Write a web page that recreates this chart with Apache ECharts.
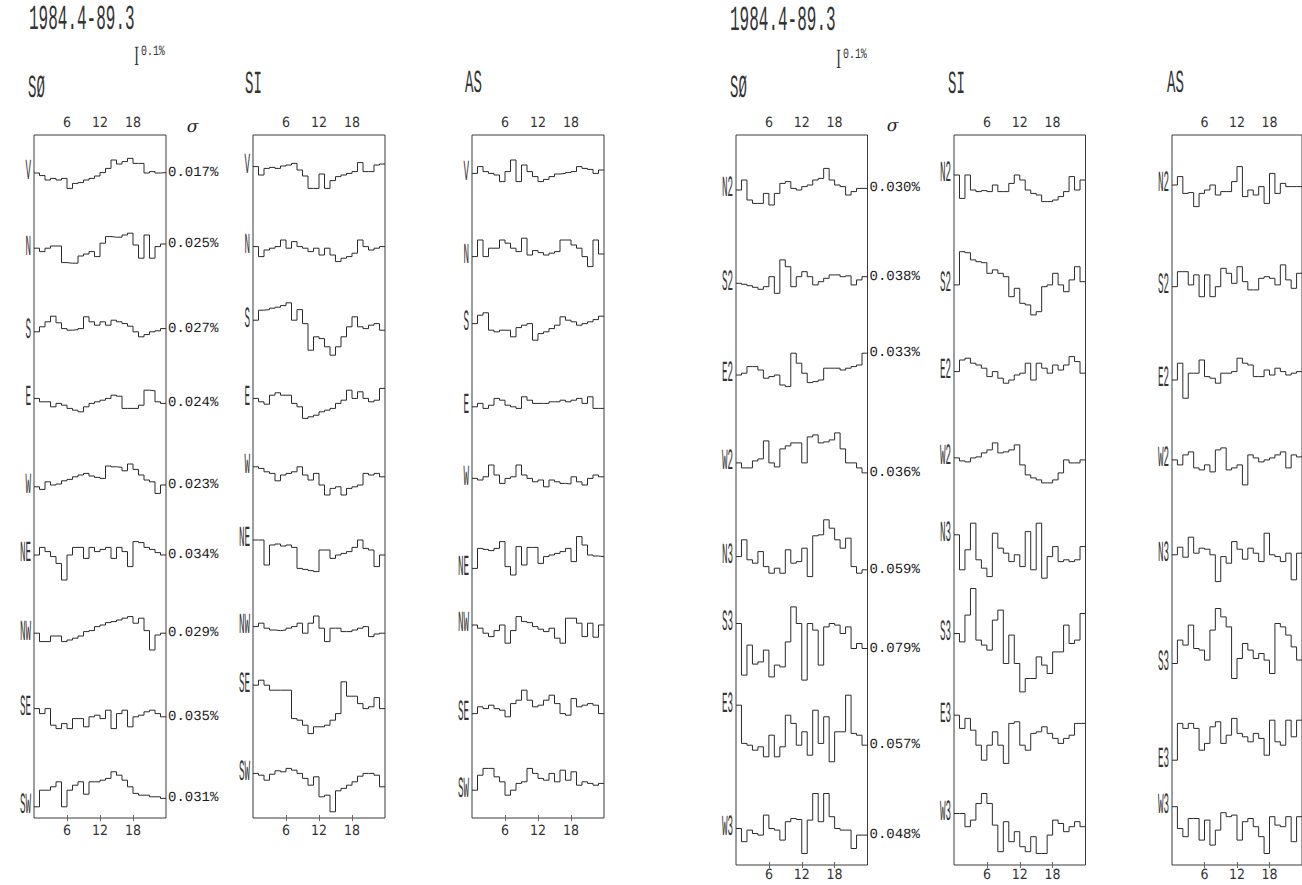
<!DOCTYPE html>
<html><head><meta charset="utf-8">
<script src="https://cdn.jsdelivr.net/npm/echarts@6/dist/echarts.min.js"></script>
<style>html,body{margin:0;padding:0;background:#fff}#c{width:1302px;height:885px}#c svg text{text-rendering:geometricPrecision}</style>
</head><body><div id="c"></div>
<script>
// ---------------- data ----------------
const hourTicks = [6, 12, 18];
const periodLabel = '1984.4-89.3';
const scaleLabel = '0.1%';
const stations = ['SØ', 'SI', 'AS'];

const leftRows = ['V','N','S','E','W','NE','NW','SE','SW'];
const leftSigma = ['0.017%','0.025%','0.027%','0.024%','0.023%','0.034%','0.029%','0.035%','0.031%'];
const rightRows = ['N2','S2','E2','W2','N3','S3','E3','W3'];
const rightSigma = ['0.030%','0.038%','0.033%','0.036%','0.059%','0.079%','0.057%','0.048%'];

// hourly deviations (units of 0.01 %), hours 0..23
const leftSO = [
 [0,-1.3,-3.5,-2.7,-3.5,-2.7,-7.7,-5.2,-4.8,-3.5,-2.7,-1.5,0.2,2.3,6.5,4.5,5.7,7.3,4.8,4.8,0,0.7,0,0.2],
 [1.2,-0.5,1.2,2.3,2.3,-6,-6.3,-6.3,-2.7,-1.7,-0.5,-3,3.7,7,6.7,6.7,7.8,8.7,2.8,-3.8,7.8,-3.8,2,3.3],
 [-1.8,0.7,3.2,6,2.7,-0.2,-1,-0.7,-0.2,5.7,3.2,1.5,3.2,1.5,4,3.2,2.3,1,-1.8,-4.3,-3.2,-1.8,-1.3,-0.2],
 [3.7,2,2,-0.5,1.2,0.3,-1.3,-2.2,-3,-0.5,1.2,2,2.8,3.7,5.3,4.8,-1.3,-1.3,-1.3,0.3,7.8,7.5,2,1.2],
 [-1.7,-3,0.8,-0.8,-0.3,1.3,2,3.3,4.2,5,3.7,3,2.5,8.7,8.3,8,6.3,9.7,7,4.2,1.7,0.8,-5,-0.8],
 [3,6.8,4.7,2.2,-1.2,-9.5,3,6.8,6.8,1.3,6.8,4.7,5.8,6.8,1.3,6.8,4.7,-2.8,9.7,9.2,6.8,5.8,4.2,3],
 [2.7,-1.5,-1.5,1.3,1.3,-1.5,-0.7,0.2,1.3,3.5,4,6,6.8,8,8.5,9.3,10.2,11,7.7,10.2,4,-5.7,1.8,2.7],
 [3.8,1.3,3.8,-4.5,-6.2,-3.7,-6.2,-1.2,-1.2,-5.3,-0.3,0.5,-1.2,3,-6.2,1.3,3,-5.3,-0.3,0.5,2.2,3,1.3,-0.3],
 [-6.5,1.8,1.8,3.5,6,-6.5,1.8,4.3,6,-0.2,6,6,6.8,7.7,11,9.3,6.8,3.5,0.2,-0.7,-0.7,-1.5,-1.5,-2.3]
];
const leftSI = [
 [3.2,-1,2.3,2.8,2.3,3.5,4,4.8,1.5,-1.5,-7.7,-7.7,-0.5,-7.7,-3.8,-1.8,-1,-0.2,0.7,5.2,0.7,0.7,4,4.5],
 [2,-3,0.3,1.2,2,5.3,1.2,4.5,2,1.2,-0.5,1.2,-2.2,1.2,-2.2,-5.5,-3.8,-3,-1.3,5.3,2,0.3,1.2,2],
 [4,9,9.3,10,10.5,11.3,12.7,4,9.3,2.3,-11,-4.3,-5.2,-9.3,-13.5,-9.3,-4.3,0.7,5.7,0.7,-0.2,1.5,2.3,-1],
 [3.7,2,0.8,5.3,6.5,5.3,5.3,1.2,-0.5,-6.3,-5.5,-4.7,-3,-2.2,-1.3,1.2,2.8,7.8,3.7,7,3.7,2,2.8,8.7],
 [8.3,7.5,5.8,5,1.3,4.2,5,5.8,8.3,4.2,1.7,5,-0.8,-5.8,-2.5,-1.7,-5.8,-2.5,-1.7,-0.8,5,4.2,5,3.3],
 [10.5,10.5,-2,8,8.5,7.5,8,6.8,-3.7,-4.2,-4.8,-5.3,5.5,5.5,1.3,3,3.8,4.7,6.8,10.5,6.3,5.5,-2.8,3],
 [6,7.7,5.2,4.3,4,4.3,5.2,6,7.7,2.7,7.7,11.3,5.2,-1.5,5.2,5.2,3.5,3.5,4.3,5.2,6,1,2.3,2.7],
 [15.5,18,15.5,13,13,13,13,-1.2,-2,-4.5,-8.7,-5.3,-5.3,-4.5,-2,1.3,17.2,10,10,6.3,3.8,4.7,9.3,3.8],
 [10.2,9.3,6.8,9.8,11.5,11,12.7,11.8,10.2,7.7,4.3,8.5,-1.5,-0.7,-9,1.5,2.7,4.3,6,8.8,10.2,10.2,9.3,3.5]
];
const leftAS = [
 [-0.2,3.2,0.7,-0.2,-1,-4.3,0.7,6.5,-4.3,4,0.7,-1.8,-4.3,-3.2,-1.8,-0.5,-0.2,0.2,0.7,3.2,2.3,1.8,-0.2,1.5],
 [-3,5.3,-3,1.2,1.2,5.3,3.7,1.2,-0.5,6.2,-2.2,0,-1,-2.2,-1.3,-0.5,5.3,5.3,2.8,1.2,-3,-8,5.3,-1.7],
 [2.3,6.5,7.7,-1,-1.8,-1,-1,-4.3,0.3,1.5,2.3,-6,-2.7,-1.8,-0.2,1.5,5.7,4,3.2,1.5,2.3,3.2,4.3,6],
 [-0.5,1.2,-1.3,0.3,3.7,2.8,0.3,-0.5,-1.3,4.5,2.8,1.2,1.2,1.2,2,2,2.8,2,2.8,3.7,1.2,4.5,-1.3,-1.3],
 [2.5,1.7,3.3,9.2,4.2,0,2.5,3.3,9.2,4.2,2.5,0.8,1.7,-1.7,1.7,0.8,0,-0.3,3.3,0.8,-0.8,2.5,4.2,3.3],
 [-3.7,6.3,5.8,5.2,6.3,9.7,-2.8,-7,7.2,-2,6.8,6.8,-1.2,2.2,3,3.8,4.7,6.3,-0.3,12.2,8,3,2.5,2.2],
 [6.8,5.2,2.7,1,4,6.8,-2.3,4,11,8.5,8,6,4.7,3.5,5.2,0.2,-2.3,10.2,10.2,7.7,1,7.7,0.7,6.8],
 [1.3,4.7,3.8,5.5,3.8,3,-0.3,6.3,8,13,8,4.7,5.5,8,10.5,6.3,1.3,0.5,8.8,4.7,5.5,6.3,5.5,1.3],
 [1.8,9.3,12.7,12.7,8.5,6,-0.7,1.8,5.2,6,12.7,10.2,7.7,6.8,10.2,6,11.8,6.8,11,4.3,6,5.2,4.3,5.2]
];
const rightSO = [
 [0,5,-5,-6.7,-6.7,-1.7,-7.5,-1.7,3.3,4.2,0.8,0,1.7,2.5,5,5.8,10.8,5,2.5,1.7,-2.5,-0.8,0.8,0.8],
 [-1.5,-2,-2.7,-3.5,-4.5,-3.2,1.8,-6.5,10.2,6.8,-3.2,1.8,4.3,1.8,-2.3,-0.7,1,2.7,2.7,1.8,2.2,-2.3,0.2,1.8],
 [-2.2,-1.3,2,2,0.3,-3.8,-3,-2.2,-7.2,-8,8.7,3.7,-1.3,-6,-5.5,-4.7,1.2,1.2,1.2,0.3,1.2,2,2.8,8.7],
 [-1,-3.5,-3.5,0,1,10,-1,-3,6,7.5,9,9,-1,12,13,9,9.5,10.5,14,6,-1,-1,-3.5,-6],
 [-2.7,5.7,-4.3,-6,-0.2,-7.7,-11,-8.5,-11,0.7,-6,-5.2,1.5,-12.7,7.7,8.2,15.7,11.5,5.7,1.5,6.5,-7.7,-11,-9.3],
 [9,-16.8,-1.8,-11.3,-10.2,-4.3,-17.7,-11.8,-12.7,-0.2,17.3,9,-19.3,9,5.7,-11.8,7.3,9,8.2,4,7.3,-3.5,-1,-3.5],
 [13.3,-5.8,-6.7,-9.2,-7.5,-12.5,-1.7,-12.5,-7.5,8.3,4.2,-6.7,0,-11.7,10.8,-5.8,7.5,-15,0,0,18.3,-0.8,-1.7,-6.7],
 [-3.2,-9.8,-4,-5.7,-6.5,3.5,-3.2,-4,-9,0.2,1.8,1.3,-15.7,1,14.3,0.2,14.3,2.7,-3.2,-4,-4,-13.2,-6.5,-6.5]
];
const rightSI = [
 [7.5,-4.2,7.5,0,-0.8,-0.3,-0.8,2.5,-0.8,-0.8,3.3,7.5,5,0,-1.7,-2.5,-5.8,-5.8,-5,-3.3,-0.8,6.7,0,5],
 [-2.3,14.3,13.8,10.2,9.3,8.8,3.5,5.2,3.5,1.8,-8.2,-4,-11.5,-12.3,-17.3,-15.7,-3.2,-2.3,3.5,-2.3,-5.7,0.2,6.8,-0.7],
 [-0.5,5.3,6.2,3.7,2.8,1.2,-3,-0.5,-3.8,-6.3,-4.7,-2.2,-1.3,3.7,-4.7,3.7,1.2,-1.3,2.8,0.3,2.8,7,4.5,-1.3],
 [1.5,0,-0.5,1.5,2,4,5.5,9,4,4.5,5.5,8,-2,-7,-8.5,-9.5,-11,-11,-9.5,-6,0.5,-1,-1,0.5],
 [8.2,-9.3,0.7,14,-4.3,-8.5,-12.7,9,1.5,-1,-5.2,-1.8,-7.7,9.8,-9.3,14,-13.5,-2.7,2.3,-5.2,-4.3,-5.2,-4.3,2.3],
 [4,-0.2,13.2,26.5,0.7,-1.8,-4.3,10.7,15.7,-11,3.2,-11,-25.2,-18.5,-18.5,-7.7,-11.8,-16,-5.2,-5.2,8.2,-1,0.7,14],
 [8.3,1.7,6.7,0.8,-6.7,-14.2,-6.7,0,-6.7,-15.8,4.2,5,-6.7,-9.2,-0.8,0,2.5,-0.8,-3.3,-5.8,-3.3,-1.7,4.2,4.2],
 [4.3,4.3,-2.3,1,9.3,14.3,9.3,-1.5,-14.8,0.2,-9.8,-4.8,-12.3,-14.8,-7.3,-15.7,-15.7,-6.5,1,-0.7,-4.8,-2.3,0.2,-2.3]
];
const rightAS = [
 [2.5,6.7,-1.7,-1.3,-8.3,-1.7,0,2.5,-2.5,-0.8,-0.8,4.2,11.7,-3.3,0,-2.5,1.7,-6.7,8.3,-1.7,3.3,1.7,1.7,1.7],
 [-3.2,4.3,4.3,-2.3,2.7,-8.2,2.7,-8.2,-3.2,6,3.5,-1.5,6.8,-0.7,-4.8,-4.8,1,1.8,1,-2.3,7.7,0.2,-4,3.5],
 [-4.7,3.7,-13.8,-1.3,-1.3,5.3,-3,-3.8,-6.3,-1.3,-1.3,-0.5,6.2,3.7,2.8,-3,-3,0.3,-2.2,1.2,-0.5,-2.2,-1.3,-0.5],
 [0.5,-2,3,4.5,-3.5,-4.5,-2,-5.5,5.5,6.5,-4.5,-3.5,-2,-12,3,1.5,-0.5,0.5,1.5,3,4.5,-3.5,3,2],
 [-1.8,2,-3,7,-1,1.5,1,-1.8,-15.2,-2.7,-6,4.8,1,-4,1.5,-1,-5.2,9,-1.8,-2.7,-5.2,-1,-14.3,-1],
 [-11,0.7,-1.8,8.2,-3.5,-4.3,-9.3,5.7,16.5,12.3,7.3,-18.5,-8.5,-1,-4.3,-8.5,-6,-9.3,-16,9,7.3,3.2,-2.7,-9.3],
 [-14.2,4.2,1.7,4.2,1.7,-9.2,-5.8,2.5,5,-5.8,-1.7,6.7,-0.8,-2.5,-5,-0.8,-3.3,-11.7,5.8,-5,-6.7,5.8,-2.5,5.8],
 [7.7,-3.2,-7.3,1.8,1.8,-9,1,-11.5,-4,4.7,2.7,3.5,-9,0.2,1.8,-2.3,-7.3,-15.7,2.7,-1.5,-2.3,2.7,-9.8,2.7]
];

// ---------------- layout ----------------
const PX_PER_UNIT = 2;
const LAYOUT = {
  left:  { boxX: [34, 253, 472],  boxW: 132,   top: 135, bottom: 818, firstRow: 173, rowStep: 77.6, tickMarginBottom: 6 },
  right: { boxX: [736, 954, 1172], boxW: 131.5, top: 135, bottom: 865, firstRow: 190, rowStep: 90.3, tickMarginBottom: 3 }
};
const INK = '#2a2a2a';
const TICK_FONT = "'Liberation Sans Narrow','DejaVu Sans Condensed','Liberation Sans',sans-serif";
const PLOT_FONT = "'Liberation Mono','DejaVu Sans Mono',monospace";

const grid = [], xAxis = [], yAxis = [], series = [], rowMeta = [];

function tickAxis(gi, pos, margin) {
  return {
    gridIndex: gi, type: 'value', min: 0, max: 24, interval: 6, position: pos,
    axisLine: { show: false },
    axisTick: { show: true, inside: true, length: 3, lineStyle: { color: '#666', width: 1 } },
    splitLine: { show: false },
    axisLabel: {
      show: true, margin: margin, showMinLabel: false, showMaxLabel: false,
      formatter: v => hourTicks.includes(v) ? String(v) : '',
      color: '#333', fontFamily: TICK_FONT, fontSize: 14
    }
  };
}

function addPanel(group, p, rows, data, sigma) {
  const L = LAYOUT[group];
  const x0 = L.boxX[p];
  const gi = grid.length;
  grid.push({ left: x0, top: L.top, width: L.boxW, height: L.bottom - L.top, show: true,
    borderColor: '#3a3a3a', borderWidth: 1, backgroundColor: 'transparent' });
  xAxis.push(tickAxis(gi, 'top', 5));
  xAxis.push(tickAxis(gi, 'bottom', L.tickMarginBottom));
  yAxis.push({ gridIndex: gi, type: 'value', min: 0, max: 1, show: false });

  rows.forEach((name, r) => {
    const c = L.firstRow + r * L.rowStep;
    const h = L.rowStep;
    const g = grid.length;
    grid.push({ left: x0, top: c - h / 2, width: L.boxW, height: h, show: false });
    xAxis.push({ gridIndex: g, type: 'value', min: 0, max: 24, show: false });
    yAxis.push({ gridIndex: g, type: 'value', min: -h / 2 / PX_PER_UNIT, max: h / 2 / PX_PER_UNIT, show: false });
    const vals = data[r];
    const pts = vals.map((v, i) => [i, v]);
    pts.push([vals.length, vals[vals.length - 1]]);
    const s = {
      type: 'line', name: stations[p] + ' ' + name,
      xAxisIndex: xAxis.length - 1, yAxisIndex: yAxis.length - 1,
      data: pts, step: 'end', symbol: 'none', showSymbol: false, clip: false, silent: true,
      lineStyle: { color: INK, width: 1 }, animation: false
    };
    if (sigma) {
      s.endLabel = { show: true, formatter: sigma[r], distance: 2, color: '#1a1a1a',
        fontFamily: "'Liberation Mono','Courier New',monospace", fontSize: 14 };
    }
    series.push(s);
    rowMeta.push({ name, seriesIndex: series.length - 1, first: pts[0] });
  });
}

addPanel('left', 0, leftRows, leftSO, leftSigma);
addPanel('left', 1, leftRows, leftSI, null);
addPanel('left', 2, leftRows, leftAS, null);
addPanel('right', 0, rightRows, rightSO, rightSigma);
addPanel('right', 1, rightRows, rightSI, null);
addPanel('right', 2, rightRows, rightAS, null);

function txt(text, x, y, o) {
  return { type: 'text', x, y, scaleX: o.sx || 1, scaleY: o.sy || 1, rotation: 0.0002, silent: true, z: 10,
    style: { text, fill: o.fill || '#333', fontSize: o.size, fontFamily: o.family || PLOT_FONT,
      fontStyle: o.style || 'normal', fontWeight: o.weight || 'normal',
      align: o.align || 'left', verticalAlign: 'middle', textAlign: o.align || 'left', textVerticalAlign: 'middle' } };
}

const chart = echarts.init(document.getElementById('c'), null, { renderer: 'svg', width: 1302, height: 885 });
chart.setOption({ animation: false, backgroundColor: '#fff', grid, xAxis, yAxis, series });

const statics = [];
// titles & scale bars
[[29, 20, 136.5, 58, 141, 52], [730, 21, 838.5, 61, 843, 55]].forEach(([tx, ty, ix, iy, sx, sy]) => {
  statics.push(txt(periodLabel, tx, ty, { size: 16, sx: 1.0, sy: 2.2 }));
  statics.push(txt('I', ix, iy, { size: 14, sx: 1.0, sy: 2.0, align: 'center', family: "'Liberation Serif',serif" }));
  statics.push(txt(scaleLabel, sx, sy, { size: 9, sx: 1.1, sy: 1.6 }));
});
// station names
const stationPos = [[28, 90], [245, 86], [465, 85], [730, 90], [948, 86], [1167, 85]];
stationPos.forEach(([x, y], i) => statics.push(txt(stations[i % 3], x, y, { size: 14, sx: 1.0, sy: 2.3 })));
// sigma headers
statics.push(txt('σ', 192.5, 127, { size: 17, align: 'center', family: "'DejaVu Serif',serif", style: 'italic', fill: '#222' }));
statics.push(txt('σ', 892.5, 126, { size: 17, align: 'center', family: "'DejaVu Serif',serif", style: 'italic', fill: '#222' }));
// row labels at each line's start, placed through the series' own scales
rowMeta.forEach(m => {
  const pt = chart.convertToPixel({ seriesIndex: m.seriesIndex }, m.first);
  statics.push(txt(m.name, pt[0] - 3, pt[1], { size: 14, sx: 0.66, sy: 2.1, align: 'right' }));
});
chart.setOption({ graphic: statics });
</script>
</body></html>
